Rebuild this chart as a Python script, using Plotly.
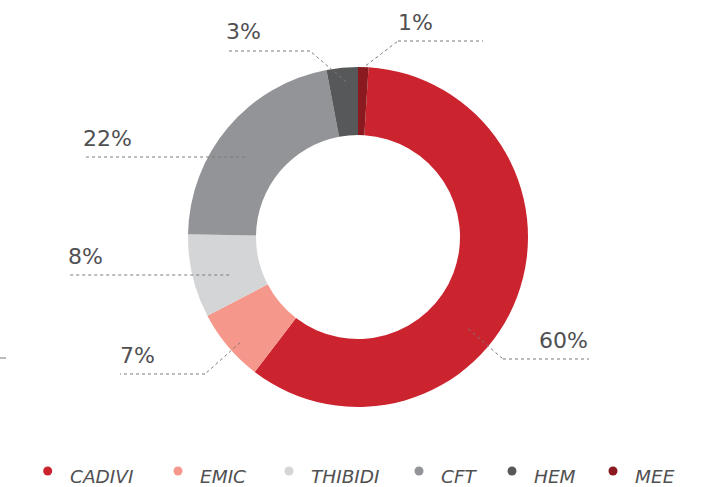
import math
import plotly.graph_objects as go

# ---------------- data ----------------
categories = ["CADIVI", "EMIC", "THIBIDI", "CFT", "HEM", "MEE"]
values = [60, 7, 8, 22, 3, 1]
pct_labels = ["60%", "7%", "8%", "22%", "3%", "1%"]

# ---------------- style ----------------
colors = ["#cc242f", "#f5978a", "#d4d5d7", "#929497", "#575859", "#8a1a1f"]
W, H = 716, 487
CX, CY, R = 358, 237, 170          # donut centre / radius in px
HOLE = 0.6
TEXT_COLOR = "#505052"
LINE_COLOR = "#7a7a7a"
FONT = "DejaVu Sans"

# leader-line style per slice: (fraction along slice, radius fraction,
#   elbow (px) or None, horizontal end x (px), line y (px), text anchor)
leader_style = {
    "CADIVI": dict(frac=0.59, rf=0.845, elbow=(503, 359), end=589, ly=359, anchor="right"),
    "EMIC": dict(frac=0.43, rf=0.93, elbow=(205, 374), end=120, ly=374, anchor="left"),
    "THIBIDI": dict(frac=0.39, rf=0.79, elbow=None, end=68, ly=275, anchor="left"),
    "CFT": dict(frac=0.44, rf=0.815, elbow=None, end=83, ly=157, anchor="left"),
    "HEM": dict(frac=0.59, rf=0.915, elbow=(310, 51), end=226, ly=51, anchor="left"),
    "MEE": dict(frac=0.75, rf=1.01, elbow=(398, 41), end=483, ly=41, anchor="elbow"),
}
legend_dot_x = [47.7, 178, 289, 419, 512, 613]
legend_dot_y = 471
legend_text_y = 476


def px(x):
    return x / W


def py(y):
    return 1 - y / H


total = sum(values)
rotation = 360.0 * values[-1] / total  # last slice (MEE) sits just before 12 o'clock

fig = go.Figure()
fig.add_trace(go.Pie(
    labels=categories,
    values=values,
    hole=HOLE,
    sort=False,
    direction="clockwise",
    rotation=rotation,
    marker=dict(colors=colors, line=dict(width=0)),
    textinfo="none",
    showlegend=False,
    domain=dict(x=[px(CX - R), px(CX + R)], y=[py(CY + R), py(CY - R)]),
))

shapes = []
annotations = []

# leader lines + percentage labels, anchored on each slice's angle
start_angle = rotation
for cat, v, lab in zip(categories, values, pct_labels):
    span = 360.0 * v / total
    st = leader_style[cat]
    a = math.radians(start_angle + st["frac"] * span)
    start_angle += span
    sx = CX + st["rf"] * R * math.sin(a)
    sy = CY - st["rf"] * R * math.cos(a)
    pts = [(sx, sy)]
    if st["elbow"] is not None:
        pts.append(st["elbow"])
    else:
        pts[0] = (sx, st["ly"])
    pts.append((st["end"], st["ly"]))
    for (x0, y0), (x1, y1) in zip(pts[:-1], pts[1:]):
        shapes.append(dict(type="line", xref="paper", yref="paper",
                           x0=px(x0), y0=py(y0), x1=px(x1), y1=py(y1),
                           line=dict(color=LINE_COLOR, width=1, dash="dot")))
    if st["anchor"] == "right":
        tx, xa = st["end"] + 1, "right"
    elif st["anchor"] == "elbow":
        tx, xa = st["elbow"][0] - 2, "left"
    else:
        tx, xa = st["end"] - 2, "left"
    annotations.append(dict(text=lab, x=px(tx), y=py(st["ly"] - 19),
                            xref="paper", yref="paper", xanchor=xa, yanchor="middle",
                            showarrow=False,
                            font=dict(family=FONT, size=22, color=TEXT_COLOR)))

# small stray tick at the left edge of the original
shapes.append(dict(type="line", xref="paper", yref="paper",
                   x0=px(0), y0=py(358), x1=px(6), y1=py(358),
                   line=dict(color="#777777", width=1)))

# legend: coloured dots + italic labels
for cat, col, dx in zip(categories, colors, legend_dot_x):
    r = 4.5
    shapes.append(dict(type="circle", xref="paper", yref="paper",
                       x0=px(dx - r), x1=px(dx + r), y0=py(legend_dot_y + r), y1=py(legend_dot_y - r),
                       fillcolor=col, line=dict(width=0)))
    annotations.append(dict(text=cat, x=px(dx + 20), y=py(legend_text_y),
                            xref="paper", yref="paper", xanchor="left", yanchor="middle",
                            showarrow=False,
                            font=dict(family=FONT, size=18.5, color=TEXT_COLOR,
                                      style="italic", weight=300)))

fig.update_layout(
    width=W, height=H,
    margin=dict(l=0, r=0, t=0, b=0),
    paper_bgcolor="white",
    plot_bgcolor="white",
    shapes=shapes,
    annotations=annotations,
)

fig.write_html("out.html",
               config=dict(displayModeBar=False),
               post_script="document.body.style.margin='0';document.body.style.overflow='hidden';")
